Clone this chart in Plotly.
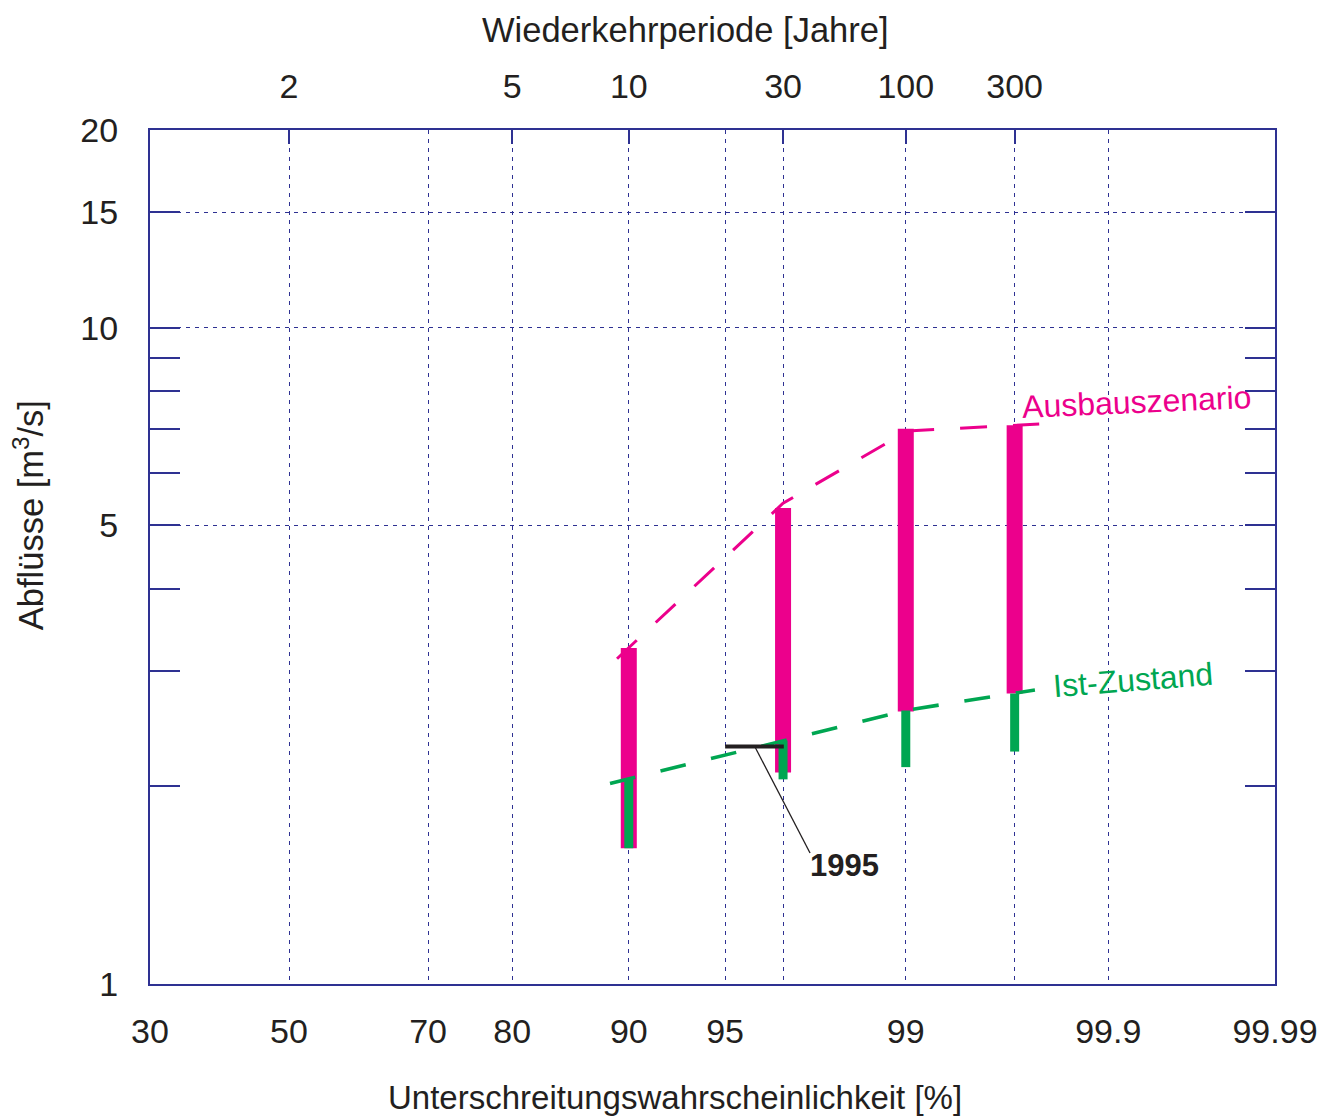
import plotly.graph_objects as go
from statistics import NormalDist

# ---------------- data ----------------
prob_ticks = [30, 50, 70, 80, 90, 95, 99, 99.9, 99.99]
prob_labels = ["30", "50", "70", "80", "90", "95", "99", "99.9", "99.99"]
return_tick_pct = [50, 80, 90, 96.88, 99, 99.69]
return_labels = ["2", "5", "10", "30", "100", "300"]
y_ticks = [1, 5, 10, 15, 20]
y_tick_labels = ["1", "5", "10", "15", "20"]
y_minor = [2, 3, 4, 6, 7, 8, 9]

bar_pct = [90, 96.88, 99, 99.69]
ausbau_lo = [1.61, 2.10, 2.60, 2.77]
ausbau_hi = [3.25, 5.31, 7.01, 7.10]
ist_lo = [1.61, 2.05, 2.14, 2.26]
ist_hi = [2.06, 2.35, 2.61, 2.77]

ausbau_line_pct = [89.2, 96.88, 99.02, 99.767]
ausbau_line_q = [3.13, 5.40, 6.96, 7.13]
ist_line_pct = [88.7, 96.88, 99.02, 99.755]
ist_line_q = [2.02, 2.35, 2.615, 2.805]

event_1995_pct = [95, 96.9]
event_1995_q = [2.30, 2.30]

# ---------------- helpers ----------------
nd = NormalDist()


def zp(pct):
    return nd.inv_cdf(pct / 100.0)


MAG = "#EC008C"
GRN = "#00A651"
NAVY = "#2E3192"
TXT = "#231F20"
FONT = "Liberation Sans, Arial, Helvetica, sans-serif"


def segs(pcts, lo, hi):
    xs, ys = [], []
    for p, a, b in zip(pcts, lo, hi):
        xs += [zp(p), zp(p), None]
        ys += [a, b, None]
    return xs, ys


fig = go.Figure()

mx, my = segs(bar_pct, ausbau_lo, ausbau_hi)
fig.add_trace(go.Scatter(x=mx, y=my, mode="lines", line=dict(color=MAG, width=16),
                         hoverinfo="skip", showlegend=False))
gx, gy = segs(bar_pct, ist_lo, ist_hi)
fig.add_trace(go.Scatter(x=gx, y=gy, mode="lines", line=dict(color=GRN, width=9),
                         hoverinfo="skip", showlegend=False))

fig.add_trace(go.Scatter(x=[zp(p) for p in ausbau_line_pct], y=ausbau_line_q, mode="lines",
                         line=dict(color=MAG, width=3, dash="27px,26px"), showlegend=False))
fig.add_trace(go.Scatter(x=[zp(p) for p in ist_line_pct], y=ist_line_q, mode="lines",
                         line=dict(color=GRN, width=3.6, dash="26px,26px"), showlegend=False))
fig.add_trace(go.Scatter(x=[zp(p) for p in event_1995_pct], y=event_1995_q, mode="lines",
                         line=dict(color=TXT, width=4), showlegend=False))

# invisible trace for the top axis
fig.add_trace(go.Scatter(x=[zp(return_tick_pct[0])], y=[y_ticks[0]], xaxis="x2", mode="markers",
                         marker=dict(opacity=0), hoverinfo="skip", showlegend=False))

xr = [zp(prob_ticks[0]), zp(prob_ticks[-1])]
grid_common = dict(showgrid=True, gridcolor=NAVY, gridwidth=1, griddash="4px,5px", zeroline=False)

fig.update_layout(
    width=1324, height=1110,
    margin=dict(l=142, r=57, t=122, b=134),
    paper_bgcolor="white", plot_bgcolor="white",
    showlegend=False,
    font=dict(family=FONT, size=34, color=TXT),
    xaxis=dict(range=xr, tickmode="array", tickvals=[zp(p) for p in prob_ticks], ticktext=prob_labels,
               showline=True, linecolor=NAVY, linewidth=2, mirror=True,
               ticks="", ticklabelstandoff=16, tickfont=dict(size=34), **grid_common),
    xaxis2=dict(range=xr, overlaying="x", side="top", anchor="y", tickmode="array",
                tickvals=[zp(p) for p in return_tick_pct], ticktext=return_labels,
                showline=False, ticks="inside", ticklen=14, tickcolor=NAVY, tickwidth=1.5,
                ticklabelstandoff=24, tickfont=dict(size=34), **grid_common),
    yaxis=dict(type="log", range=[0, 1.30103], tickmode="array", tickvals=y_ticks, ticktext=y_tick_labels,
               showline=True, linecolor=NAVY, linewidth=2, mirror="allticks",
               ticks="inside", ticklen=30, tickcolor=NAVY, tickwidth=1.5, ticklabelstandoff=23,
               tickfont=dict(size=34),
               minor=dict(tickmode="array", tickvals=y_minor, ticks="inside", ticklen=17,
                          tickcolor=NAVY, tickwidth=1.5, showgrid=False),
               **grid_common),
)

ann = [
    dict(text="Wiederkehrperiode [Jahre]", x=0.4764, y=1.117, xref="paper", yref="paper",
         showarrow=False, xanchor="center", yanchor="middle", font=dict(size=34.5, color=TXT)),
    dict(text="Unterschreitungswahrscheinlichkeit [%]", x=0.4667, y=-0.1325, xref="paper", yref="paper",
         showarrow=False, xanchor="center", yanchor="middle", font=dict(size=33, color=TXT)),
    dict(text="Abflüsse [m<sup>3</sup>/s]", x=-0.1084, y=0.549, xref="paper", yref="paper",
         showarrow=False, xanchor="center", yanchor="middle", textangle=-90, font=dict(size=34.5, color=TXT)),
    dict(text="Ausbauszenario", x=0.8773, y=0.6815, xref="paper", yref="paper",
         showarrow=False, xanchor="center", yanchor="middle", textangle=-2.5, font=dict(size=32, color=MAG)),
    dict(text="Ist-Zustand", x=0.8738, y=0.356, xref="paper", yref="paper",
         showarrow=False, xanchor="center", yanchor="middle", textangle=-4.5, font=dict(size=32, color=GRN)),
    dict(text="<b>1995</b>", x=0.6169, y=0.1382, xref="paper", yref="paper",
         showarrow=False, xanchor="center", yanchor="middle", font=dict(size=31, color=TXT)),
]
fig.update_layout(annotations=ann)

fig.add_shape(type="line", xref="paper", yref="paper", x0=0.5378, y0=0.2775, x1=0.5867, y1=0.1534,
              line=dict(color=TXT, width=1.3))

fig.write_html("out.html")
